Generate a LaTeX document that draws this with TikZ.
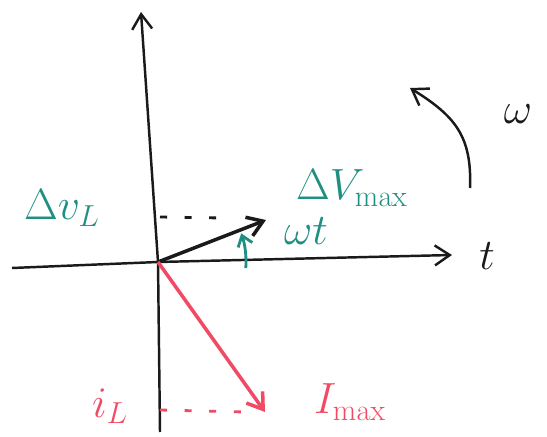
\documentclass[tikz,border=0pt]{standalone}
\usepackage{xcolor}
\usepackage{tikz}
\usetikzlibrary{arrows.meta,positioning}
\definecolor{phteal}{HTML}{1E8F82}
\definecolor{phred}{HTML}{F04A64}
\definecolor{phink}{HTML}{1A1A1A}

\begin{document}
\begin{tikzpicture}[x=0.02cm, y=0.02cm,
  axis/.style={-{Straight Barb[length=3mm, width=4mm]}, line width=1.4pt, draw=phink},
  phasor/.style={-{Straight Barb[length=3mm, width=4mm]}, line width=2pt},
  proj/.style={line width=1.6pt, dash pattern=on 4pt off 10pt},
  lbl/.style={font=\fontsize{26}{30}\selectfont\sffamily, inner sep=1pt},
]
  \useasboundingbox (0,0) rectangle (547,436);

  % Axes --------------------------------------------------------------------
  \coordinate (origin) at (158,174);
  \coordinate (ytop) at (141,424);
  \coordinate (ybot) at (160,4);
  \coordinate (xleft) at (12,168);
  \coordinate (xright) at (452,181);
  \draw[axis] (ybot) -- (origin) -- (ytop);
  \draw[axis] (xleft) -- (origin) -- (xright);
  \node[lbl, text=phink] (tlabel) at (487,180) {$t$};

  % Voltage phasor ------------------------------------------------------------
  \coordinate (vtip) at (266,216);
  \draw[phasor, draw=phink] (origin) -- (vtip);
  \node[lbl, text=phteal] (vmax) at (352,248) {$\Delta V_{\max}$};
  \node[lbl, text=phteal] (vl) at (62,228) {$\Delta v_L$};
  \coordinate (vproj) at (160,219);
  \draw[proj, draw=phink] (vproj) -- (222,218);

  % Angle ---------------------------------------------------------------------
  \draw[-{Straight Barb[length=2mm, width=3mm]}, line width=1.6pt, draw=phteal]
    ([shift={(-4:88)}]origin) arc[start angle=-4, end angle=19, radius=88];
  \node[lbl, text=phteal] (wt) at (306,205) {$\omega t$};

  % Current phasor ------------------------------------------------------------
  \coordinate (itip) at (265,24);
  \draw[phasor, draw=phred] (origin) -- (itip);
  \node[lbl, text=phred] (imax) at (350,34) {$I_{\max}$};
  \node[lbl, text=phred] (il) at (110,30) {$i_L$};
  \coordinate (iproj) at (160,26);
  \draw[proj, draw=phred] (iproj) -- (245,24);

  % Rotation ------------------------------------------------------------------
  \coordinate (rotstart) at (470,248);
  \coordinate (rottip) at (410,348);
  \draw[axis] (rotstart) .. controls (472,300) and (455,320) .. (rottip);
  \node[lbl, text=phink] (omega) at (518,322) {$\omega$};
\end{tikzpicture}
\end{document}
